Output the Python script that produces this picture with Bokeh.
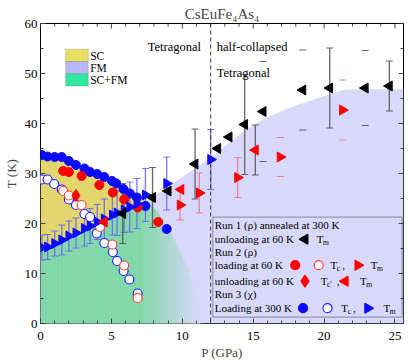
import numpy as np
from bokeh.plotting import figure
from bokeh.models import (Range1d, SingleIntervalTicker, Span, Label, BoxAnnotation)
from bokeh.embed import file_html
from bokeh.resources import INLINE

FONT = "Liberation Serif"

# ---------------- data ----------------
# Run 1 (rho) unloading at 60 K : Tm (black left triangles)
r1_P = [5.8, 7.9, 9.0, 10.9, 12.5, 13.3, 14.4, 15.7, 18.5, 20.4, 22.9, 24.6]
r1_T = [22.0, 25.2, 26.5, 31.9, 35.0, 37.3, 39.8, 42.4, 46.7, 47.1, 47.1, 47.5]
r1_E = [6.0, 6.0, 0.0, 7.0, 0.0, 0.0, 10.0, 10.0, 8.0, 8.0, 7.5, 5.0]

# Run 2 (rho) loading at 60 K
r2_Tc_P = [1.6, 2.0, 2.9, 4.15, 5.1, 5.9, 6.85, 8.3]
r2_Tc_T = [30.5, 30.3, 29.5, 27.7, 26.2, 24.8, 23.2, 20.3]
r2_Tc2_P = [1.6, 2.0, 2.9, 4.2, 5.07, 5.9, 6.85]
r2_Tc2_T = [26.5, 25.6, 23.7, 19.3, 15.8, 11.6, 5.1]
r2_Tm_P = [9.85, 11.2, 13.9, 16.9, 21.3]
r2_Tm_T = [23.7, 26.1, 29.2, 33.3, 42.7]
r2_Tm_E = [3.0, 4.0, 4.0, 3.9, 6.0]
# Run 2 unloading at 60 K
r2u_Tc_P = [2.5]
r2u_Tc_T = [25.6]
r2u_Tm_P = [4.5, 9.9, 15.15]
r2u_Tm_T = [20.3, 26.8, 34.7]
r2u_Tm_E = [0.0, 0.0, 5.0]

# Run 3 (chi) loading at 300 K
r3_Tc_P = [0.1, 0.5, 1.0, 1.5, 2.0, 2.5, 3.1, 3.5, 4.0, 4.5, 5.05, 5.35, 5.85, 6.3, 6.8, 7.4, 8.9]
r3_Tc_T = [33.7, 33.4, 33.3, 33.3, 32.5, 31.7, 31.0, 30.3, 29.9, 29.3, 28.5, 28.0, 26.9, 26.0, 25.2, 23.5, 18.9]
r3_Tc2_P = [0.1, 0.5, 0.97, 1.5, 2.0, 2.5, 3.1, 3.5, 3.97, 4.5, 5.1, 5.4, 5.86, 6.27, 6.85]
r3_Tc2_T = [28.8, 28.8, 27.9, 26.8, 24.8, 23.7, 21.9, 21.3, 18.0, 16.1, 14.3, 12.5, 10.5, 8.8, 6.0]
r3_Tm_P = [0.1, 0.5, 1.0, 1.5, 2.0, 2.5, 3.1, 3.5, 4.0, 4.5, 5.07, 5.4, 5.9, 6.3, 6.8, 7.4, 8.9, 12.0]
r3_Tm_T = [15.2, 15.3, 16.0, 16.7, 17.5, 18.1, 19.0, 19.5, 20.3, 20.9, 21.7, 22.1, 22.7, 23.3, 24.0, 25.7, 28.0, 32.8]
r3_Tm_E = [2.5, 2.5, 2.5, 3.0, 3.0, 3.0, 3.5, 3.5, 3.5, 4.0, 4.0, 4.5, 4.5, 5.0, 5.0, 5.3, 5.3, 6.0]

# Phase boundaries (shaded regions)
fm_top_P = [0.0, 7.4, 9.0, 12.0, 14.5, 16.0, 18.0, 20.0, 21.5, 25.6]
fm_top_T = [14.8, 24.5, 27.3, 33.2, 38.8, 41.3, 43.6, 45.5, 46.8, 46.9]
sc_top_P = [0.0, 1.5, 3.0, 5.0, 6.5, 7.4]
sc_top_T = [33.2, 32.8, 30.8, 28.0, 25.6, 24.5]
scfm_top_P = [0.0, 7.4, 8.2, 9.2, 10.2, 10.9, 11.3]
scfm_top_T = [14.8, 24.5, 22.5, 18.0, 12.0, 6.0, 0.0]

# which error bars show their vertical line (others show only caps, as in the original)
r1_line = [1, 1, 0, 1, 0, 0, 1, 0, 0, 1, 0, 1]
r2_line = [1, 1, 1, 0, 0]
r2u_line = [0, 0, 1]

# ---------------- figure ----------------
XMAX = 25.6
YMAX = 60.0
p = figure(width=408, height=363,
           x_range=Range1d(0, XMAX), y_range=Range1d(0, YMAX),
           output_backend="svg", toolbar_location=None,
           min_border_left=31, min_border_right=5, min_border_top=23, min_border_bottom=40)
p.grid.visible = False
p.outline_line_color = "black"
p.outline_line_width = 1
p.background_fill_color = "white"

p.title.text = "CsEuFe\u2084As\u2084"
p.title.align = "center"
p.title.text_font = FONT
p.title.text_font_style = "normal"
p.title.text_font_size = "15px"
p.title.standoff = 4
p.title.offset = 0

def style_axis(ax):
    ax.axis_line_color = None
    ax.major_tick_in = 5
    ax.major_tick_out = 0
    ax.minor_tick_in = 3
    ax.minor_tick_out = 0
    ax.major_tick_line_color = "#444444"
    ax.minor_tick_line_color = "#444444"
    ax.major_label_text_font = FONT
    ax.major_label_text_font_size = "13px"
    ax.major_label_text_color = "black"
    ax.axis_label_text_font = FONT
    ax.axis_label_text_font_style = "normal"
    ax.axis_label_text_font_size = "13px"

p.xaxis.ticker = SingleIntervalTicker(interval=5, num_minor_ticks=5)
p.yaxis.ticker = SingleIntervalTicker(interval=10, num_minor_ticks=2)
style_axis(p.xaxis[0])
style_axis(p.yaxis[0])
p.xaxis.axis_label = "P (GPa)"
p.yaxis.axis_label = "T (K)"
p.xaxis.axis_label_standoff = 2
p.yaxis.axis_label_standoff = 3
p.xaxis.major_label_standoff = 8
p.yaxis.major_label_standoff = 3

# ---------------- shaded regions ----------------
LAV = "#d8d8fa"
GRN = np.array([128, 216, 168])
LAVc = np.array([216, 216, 250])
p.patch(fm_top_P + [XMAX, 0.0], fm_top_T + [0.0, 0.0], fill_color=LAV, line_color=None)

xs = np.linspace(0, scfm_top_P[-1], 120)
pxs, pys, cols = [], [], []
for a, b in zip(xs[:-1], xs[1:]):
    ta_, tb_ = np.interp([a, b], scfm_top_P, scfm_top_T)
    t = np.clip(((a + b) / 2 - 7.0) / 4.3, 0, 1)
    c = (GRN * (1 - t) + LAVc * t).astype(int)
    col = "#%02x%02x%02x" % tuple(c)
    pxs.append([a, b, b, a]); pys.append([0, 0, tb_, ta_]); cols.append(col)
p.patches(pxs, pys, fill_color=cols, line_color=cols, line_width=0.6)

p.patch(sc_top_P + [sc_top_P[-1], 0.0], sc_top_T + [scfm_top_T[1], scfm_top_T[0]],
        fill_color="#e2d66c", line_color=None)

# mirror ticks on top and right frame edges (inward)
kx = 1.0 / 14.46   # GPa per pixel
ky = 1.0 / 5.0     # K per pixel
xmaj = np.arange(0, XMAX + 0.01, 5.0)
xmin = np.setdiff1d(np.arange(0, XMAX + 0.01, 1.0), xmaj)
ymaj = np.arange(0, YMAX + 0.01, 10.0)
ymin = np.arange(5, YMAX, 10.0)
p.segment(xmaj, YMAX, xmaj, YMAX - 5 * ky, line_color="#444444", line_width=1)
p.segment(xmin, YMAX, xmin, YMAX - 3 * ky, line_color="#444444", line_width=1)
p.segment(XMAX, ymaj, XMAX - 5 * kx, ymaj, line_color="#444444", line_width=1)
p.segment(XMAX, ymin, XMAX - 3 * kx, ymin, line_color="#444444", line_width=1)

# dashed structural boundary
p.add_layout(Span(location=12.0, dimension="height", line_color="#333333",
                  line_dash="4 3", line_width=1, level="glyph"))

# ---------------- error bars ----------------
def ebar(P, T, E, color, show=None, alpha=0.9):
    P = np.asarray(P, float); T = np.asarray(T, float); E = np.asarray(E, float)
    show = np.ones(len(P), bool) if show is None else np.asarray(show, bool)
    m = E > 0
    P, T, E, show = P[m], T[m], E[m], show[m]
    p.segment(P[show], (T - E)[show], P[show], (T + E)[show],
              line_color=color, line_alpha=alpha, line_width=1.3)
    p.scatter(np.r_[P, P], np.r_[T - E, T + E], marker="dash", size=7,
              line_color=color, line_alpha=alpha, line_width=1.2)

ebar(r3_Tm_P, r3_Tm_T, r3_Tm_E, "#6a6af0")
ebar(r1_P, r1_T, r1_E, "#555555", r1_line)
ebar(r2_Tm_P, r2_Tm_T, r2_Tm_E, "#f07890", r2_line)
ebar(r2u_Tm_P, r2u_Tm_T, r2u_Tm_E, "#555555", r2u_line)

# ---------------- markers ----------------
LEFT = np.pi / 2
RIGHT = -np.pi / 2
MS = 9
p.scatter(r3_Tc2_P, r3_Tc2_T, marker="circle", size=MS, fill_color="white", line_color="#2020ff", line_width=1.2)
p.scatter(r2_Tc2_P, r2_Tc2_T, marker="circle", size=MS, fill_color="white", line_color="#ff4040", line_width=1.2)
p.scatter(r3_Tc_P, r3_Tc_T, marker="circle", size=MS, fill_color="#0a0aff", line_color="#0a0aff")
p.scatter(r2_Tc_P, r2_Tc_T, marker="circle", size=MS, fill_color="#ff0000", line_color="#ff0000")
p.scatter(r2u_Tc_P, r2u_Tc_T, marker="diamond", size=12, fill_color="#ff0000", line_color="#ff0000")
p.scatter(r3_Tm_P, r3_Tm_T, marker="triangle", angle=RIGHT, size=MS + 1, fill_color="#0a0aff", line_color="#0a0aff")
p.scatter(r2_Tm_P, r2_Tm_T, marker="triangle", angle=RIGHT, size=MS + 1, fill_color="#ff0000", line_color="#ff0000")
p.scatter(r2u_Tm_P, r2u_Tm_T, marker="triangle", angle=LEFT, size=MS + 1, fill_color="#ff0000", line_color="#ff0000")
p.scatter(r1_P, r1_T, marker="triangle", angle=LEFT, size=MS + 1, fill_color="black", line_color="black")

# ---------------- annotations (pixel layout converted to data units) ----------------
def dx(px):
    return (px - 39.3) / 14.46

def dy(py):
    return (323.3 - py) / 5.0

def lab(px, py, txt, size="12px", align="left", color="black", base="middle"):
    p.add_layout(Label(x=dx(px), y=dy(py), text=txt, text_font=FONT, text_font_size=size,
                       text_align=align, text_baseline=base, text_color=color))

lab(203, 47, "Tetragonal", "12.5px", align="right")
lab(219, 47, "half-collapsed", "12.5px")
lab(219, 73, "Tetragonal", "12.5px")

# top-left legend
for i, (name, col) in enumerate([("SC", "#e8e060"), ("FM", "#b8b8f8"), ("SC+FM", "#30e8a0")]):
    y0 = 49 + i * 12.3
    p.add_layout(BoxAnnotation(left=dx(65), right=dx(88), top=dy(y0), bottom=dy(y0 + 12.3),
                               fill_color=col, fill_alpha=1, line_color="#555555", line_width=0.8))
    lab(90, y0 + 6.5, name, "11.5px")

# bottom-right legend box
p.add_layout(BoxAnnotation(left=dx(215), right=dx(408), top=dy(217), bottom=dy(317),
                           fill_alpha=0, line_color="black", line_width=1.2))
FS = "11px"
lab(217, 225, "Run 1 (\u03c1) annealed at 300 K", FS)
lab(217, 239, "unloading at 60 K", FS)
lab(217, 252, "Run 2 (\u03c1)", FS)
lab(217, 265, "loading at 60 K", FS)
lab(217, 281, "unloading at 60 K", FS)
lab(217, 294, "Run 3 (\u03c7)", FS)
lab(217, 308, "Loading at 300 K", FS)

def tsub(px, py, sub, extra=""):
    lab(px, py, "T", FS)
    lab(px + 6.5, py + 3, sub, "7.5px")
    if extra:
        lab(px + 6.5 + 4.5 * len(sub) + 1, py, extra, FS)

def lmark(px, py, marker, fill, line, angle=0.0, size=9):
    p.scatter([dx(px)], [dy(py)], marker=marker, angle=angle, size=size,
              fill_color=fill, line_color=line, line_width=1.2)

lmark(309, 239, "triangle", "black", "black", LEFT, 10)
tsub(321, 239, "m")
lmark(299, 265, "circle", "#ff0000", "#ff0000")
lmark(323, 265, "circle", "white", "#ff4040")
tsub(335, 265, "c", " ,")
lmark(363, 265, "triangle", "#ff0000", "#ff0000", RIGHT, 10)
tsub(376, 265, "m")
lmark(309, 281, "diamond", "#ff0000", "#ff0000", 0.0, 12)
tsub(325, 281, "c'", ",")
lmark(350, 281, "triangle", "#ff0000", "#ff0000", LEFT, 10)
tsub(365, 281, "m")
lmark(307, 308, "circle", "#0a0aff", "#0a0aff")
lmark(332, 308, "circle", "white", "#2020ff")
tsub(346, 308, "c", ",")
lmark(373, 308, "triangle", "#0a0aff", "#0a0aff", RIGHT, 10)
tsub(389, 308, "m")

open("out.html", "w").write(file_html(p, INLINE))
